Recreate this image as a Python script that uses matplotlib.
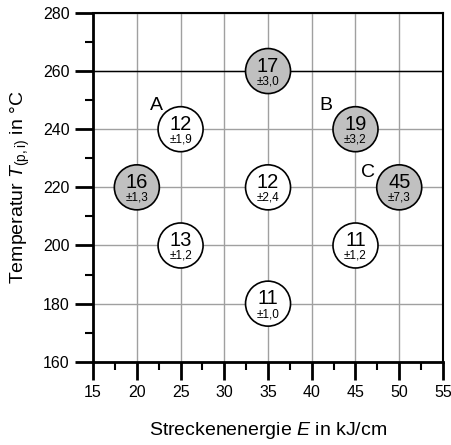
import matplotlib
matplotlib.use("Agg")
import matplotlib.pyplot as plt
from matplotlib.ticker import MultipleLocator

plt.rcParams['font.family'] = ['Liberation Sans', 'DejaVu Sans']
plt.rcParams['mathtext.fontset'] = 'custom'
plt.rcParams['mathtext.rm'] = 'Liberation Sans'
plt.rcParams['mathtext.it'] = 'Liberation Sans:italic'

# data
energy = [25, 20, 25, 35, 35, 35, 45, 45, 50]
temp = [240, 220, 200, 260, 220, 180, 240, 200, 220]
values = [12, 16, 13, 17, 12, 11, 19, 11, 45]
errors = ["±1,9", "±1,3", "±1,2", "±3,0", "±2,4", "±1,0", "±3,2", "±1,2", "±7,3"]
marked = [False, True, False, True, False, False, True, False, True]
labels = ["A", "B", "C"]
label_pos = [(22.2, 248), (41.6, 248), (46.4, 225)]

fig = plt.figure(figsize=(4.52, 4.45), dpi=100)
ax = fig.add_axes([0.206, 0.187, 0.774, 0.784])

ax.set_xlim(15, 55)
ax.set_ylim(160, 280)
ax.xaxis.set_major_locator(MultipleLocator(5))
ax.xaxis.set_minor_locator(MultipleLocator(2.5))
ax.yaxis.set_major_locator(MultipleLocator(20))
ax.yaxis.set_minor_locator(MultipleLocator(10))
ax.set_axisbelow(True)
ax.grid(True, which='major', color='#a0a0a0', linewidth=1.0)
ax.axhline(260, color='black', linewidth=1.0, zorder=2)

ax.tick_params(which='major', direction='out', length=13, width=2, labelsize=11.5, pad=4)
ax.tick_params(which='minor', direction='out', length=6, width=1.5)
ax.tick_params(top=False, right=False)
for s in ['left', 'bottom']:
    ax.spines[s].set_linewidth(2)
for s in ['top', 'right']:
    ax.spines[s].set_linewidth(1.5)

cols = ['#c0c0c0' if m else 'white' for m in marked]
ax.scatter(energy, temp, s=1050, c=cols, edgecolors='black', linewidths=1.2, zorder=3, clip_on=False)
for x, y, v, e in zip(energy, temp, values, errors):
    ax.text(x, y + 1.7, str(v), ha='center', va='center', fontsize=14.5, zorder=4)
    ax.text(x, y - 3.6, e, ha='center', va='center', fontsize=8.5, zorder=4)
for t, (x, y) in zip(labels, label_pos):
    ax.text(x, y, t, ha='center', va='center', fontsize=14, zorder=4)

ax.set_xlabel(r'Streckenenergie $\mathit{E}$ in kJ/cm', fontsize=14, labelpad=14)
ax.set_ylabel(r'Temperatur $\mathit{T}_{\rm (p,i)}$ in °C', fontsize=14, labelpad=8)

fig.savefig('out.png', dpi=100)
